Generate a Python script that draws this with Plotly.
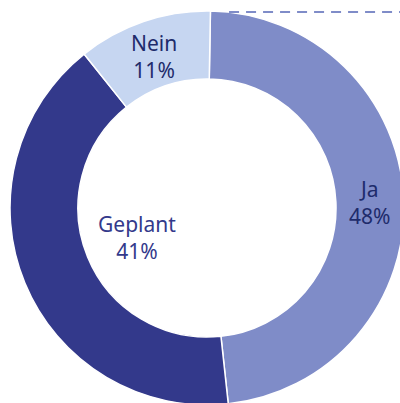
import math
import plotly.graph_objects as go

labels = ["Ja", "Geplant", "Nein"]
values = [48, 41, 11]
colors = ["#7f8cc8", "#33398b", "#c6d6f1"]
text_colors = ["#1e2b6b", "#33398b", "#1e2b6b"]

W, H = 404, 405
ML, MT = 10, 11
HOLE = 0.655
ROT = 1

fig = go.Figure(go.Pie(
    labels=labels, values=values, sort=False, direction="clockwise",
    rotation=ROT, hole=HOLE, textinfo="none", hoverinfo="label+percent",
    marker=dict(colors=colors, line=dict(color="white", width=1.5)),
    showlegend=False,
))

total = sum(values)
cum = 0
annotations = []
for lab, v, tc in zip(labels, values, text_colors):
    pct = round(100 * v / total)
    mid = math.radians(ROT + 360 * (cum + v / 2) / total)
    cum += v
    if lab == "Geplant":
        x, y = 0.322, 0.424
    else:
        r = 0.5 * (1 + HOLE) / 2
        x = 0.5 + r * math.sin(mid)
        y = 0.5 + r * math.cos(mid) - 0.006
    annotations.append(dict(
        x=x, y=y, xref="paper", yref="paper", showarrow=False,
        xanchor="center", yanchor="middle",
        text=f"{lab}<br>{pct}%", align="center",
        font=dict(family="Noto Sans", size=21, color=tc),
    ))

fig.update_layout(
    width=W, height=H,
    margin=dict(l=ML, r=0, t=MT, b=0, autoexpand=False),
    paper_bgcolor="white", plot_bgcolor="white",
    annotations=annotations,
    shapes=[dict(type="line", xref="paper", yref="paper",
                 x0=0.556, x1=1.0, y0=0.9975, y1=0.9975,
                 line=dict(color="#7f8cc8", width=2, dash="10px,7px"))],
)

fig.write_html("out.html", config={"displayModeBar": False},
               post_script="document.body.style.margin='0';document.body.style.overflow='hidden';")
